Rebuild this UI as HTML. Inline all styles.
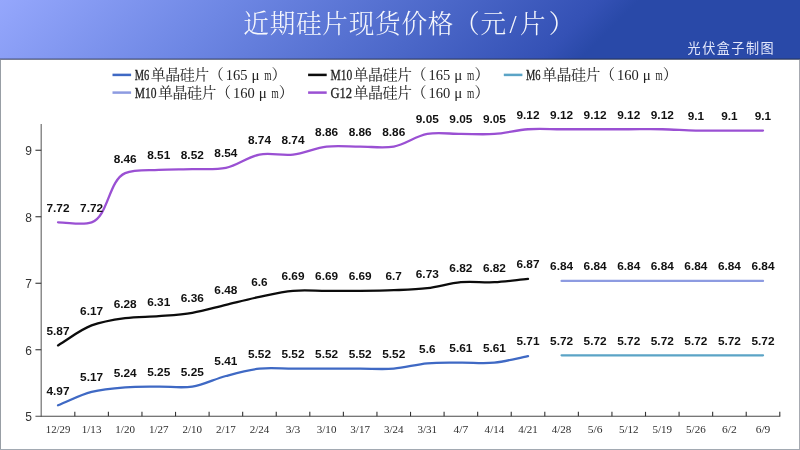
<!DOCTYPE html>
<html lang="zh-CN"><head><meta charset="utf-8"><title>近期硅片现货价格（元/片）</title>
<style>html,body{margin:0;padding:0;background:#fff;}body{width:800px;height:450px;overflow:hidden;}svg{display:block;}.ser{font-family:"Liberation Serif","Noto Serif CJK SC",serif;}.cjk{font-family:"Liberation Serif","Noto Serif CJK SC",serif;}.san{font-family:"Liberation Sans","Noto Sans CJK SC",sans-serif;}.dl{font-family:"Liberation Sans",sans-serif;font-weight:bold;font-size:11.5px;fill:#111;text-anchor:middle;}.xl{font-family:"Liberation Serif","Noto Serif CJK SC",serif;font-size:10.6px;fill:#2e2e2e;text-anchor:middle;}.yl{font-family:"Liberation Sans",sans-serif;font-size:12px;fill:#333;text-anchor:end;}.lg{font-size:15px;fill:#222;}</style></head><body>
<svg width="800" height="450" viewBox="0 0 800 450">
<defs><linearGradient id="hg" gradientUnits="userSpaceOnUse" x1="0" y1="0" x2="429" y2="429"><stop offset="0" stop-color="#95a7fc"/><stop offset="0.27" stop-color="#6e87e4"/><stop offset="0.52" stop-color="#4c68c9"/><stop offset="0.70" stop-color="#3451b5"/><stop offset="0.745" stop-color="#2949a8"/><stop offset="1" stop-color="#2949a8"/></linearGradient></defs>
<rect x="0" y="0" width="800" height="450" fill="#ffffff"/>
<rect x="0" y="0" width="800" height="59.3" fill="url(#hg)"/>
<rect x="0" y="58.5" width="800" height="1.4" fill="#23283a" fill-opacity="0.6"/>
<rect x="0" y="59.9" width="0.9" height="390.1" fill="#8d939b"/>
<rect x="799.1" y="59.9" width="0.9" height="390.1" fill="#9da1a9"/>
<rect x="0" y="449" width="800" height="1" fill="#a2a9b2"/>
<text class="cjk" text-anchor="middle" x="256.07 282.43 308.78 335.13 361.48 387.83 414.18 440.53 466.88 493.23 512.99 532.75 561.50" y="32.6" font-size="25.6" font-weight="300" fill="#ffffff" fill-opacity="0.95">近期硅片现货价格（元/片）</text>
<text class="san" text-anchor="middle" x="694.06 708.68 723.30 737.92 752.54 767.16" y="53.3" font-size="13.1" fill="#e4e8fb">光伏盒子制图</text>
<line x1="112.50" y1="74.90" x2="131.10" y2="74.90" stroke="#3f69c4" stroke-width="2.5"/>
<text class="ser lg" stroke="#222" stroke-width="0.3" x="134.80" y="80.40" textLength="14.50" lengthAdjust="spacingAndGlyphs">M6</text>
<text class="cjk lg" font-size="12.9" text-anchor="middle" x="158.15 172.65 187.15 201.65 216.15" y="79.90">单晶硅片（</text>
<text class="ser lg" x="225.70" y="80.40" textLength="21.75" lengthAdjust="spacingAndGlyphs">165</text>
<text class="ser lg" text-anchor="middle" x="255.50" y="80.40">μ</text>
<text class="ser lg" x="264.25" y="80.40" textLength="7.25" lengthAdjust="spacingAndGlyphs">m</text>
<text class="cjk lg" font-size="12.9" text-anchor="middle" x="279.05" y="79.90">）</text>
<line x1="308.10" y1="74.90" x2="326.70" y2="74.90" stroke="#0c0c0c" stroke-width="2.5"/>
<text class="ser lg" stroke="#222" stroke-width="0.3" x="330.40" y="80.40" textLength="21.75" lengthAdjust="spacingAndGlyphs">M10</text>
<text class="cjk lg" font-size="12.9" text-anchor="middle" x="361.00 375.50 390.00 404.50 419.00" y="79.90">单晶硅片（</text>
<text class="ser lg" x="428.55" y="80.40" textLength="21.75" lengthAdjust="spacingAndGlyphs">165</text>
<text class="ser lg" text-anchor="middle" x="458.35" y="80.40">μ</text>
<text class="ser lg" x="467.10" y="80.40" textLength="7.25" lengthAdjust="spacingAndGlyphs">m</text>
<text class="cjk lg" font-size="12.9" text-anchor="middle" x="481.90" y="79.90">）</text>
<line x1="503.80" y1="74.90" x2="522.40" y2="74.90" stroke="#5ba4c6" stroke-width="2.5"/>
<text class="ser lg" stroke="#222" stroke-width="0.3" x="526.10" y="80.40" textLength="14.50" lengthAdjust="spacingAndGlyphs">M6</text>
<text class="cjk lg" font-size="12.9" text-anchor="middle" x="549.45 563.95 578.45 592.95 607.45" y="79.90">单晶硅片（</text>
<text class="ser lg" x="617.00" y="80.40" textLength="21.75" lengthAdjust="spacingAndGlyphs">160</text>
<text class="ser lg" text-anchor="middle" x="646.80" y="80.40">μ</text>
<text class="ser lg" x="655.55" y="80.40" textLength="7.25" lengthAdjust="spacingAndGlyphs">m</text>
<text class="cjk lg" font-size="12.9" text-anchor="middle" x="670.35" y="79.90">）</text>
<line x1="112.50" y1="92.60" x2="131.10" y2="92.60" stroke="#8d9be1" stroke-width="2.5"/>
<text class="ser lg" stroke="#222" stroke-width="0.3" x="134.80" y="98.10" textLength="21.75" lengthAdjust="spacingAndGlyphs">M10</text>
<text class="cjk lg" font-size="12.9" text-anchor="middle" x="165.40 179.90 194.40 208.90 223.40" y="97.60">单晶硅片（</text>
<text class="ser lg" x="232.95" y="98.10" textLength="21.75" lengthAdjust="spacingAndGlyphs">160</text>
<text class="ser lg" text-anchor="middle" x="262.75" y="98.10">μ</text>
<text class="ser lg" x="271.50" y="98.10" textLength="7.25" lengthAdjust="spacingAndGlyphs">m</text>
<text class="cjk lg" font-size="12.9" text-anchor="middle" x="286.30" y="97.60">）</text>
<line x1="308.10" y1="92.60" x2="326.70" y2="92.60" stroke="#9a50d3" stroke-width="2.5"/>
<text class="ser lg" stroke="#222" stroke-width="0.3" x="330.40" y="98.10" textLength="21.75" lengthAdjust="spacingAndGlyphs">G12</text>
<text class="cjk lg" font-size="12.9" text-anchor="middle" x="361.00 375.50 390.00 404.50 419.00" y="97.60">单晶硅片（</text>
<text class="ser lg" x="428.55" y="98.10" textLength="21.75" lengthAdjust="spacingAndGlyphs">160</text>
<text class="ser lg" text-anchor="middle" x="458.35" y="98.10">μ</text>
<text class="ser lg" x="467.10" y="98.10" textLength="7.25" lengthAdjust="spacingAndGlyphs">m</text>
<text class="cjk lg" font-size="12.9" text-anchor="middle" x="481.90" y="97.60">）</text>
<line x1="41.25" y1="124" x2="41.25" y2="416.85" stroke="#8c8c8c" stroke-width="1.5"/>
<line x1="35.45" y1="416.25" x2="780.29" y2="416.25" stroke="#4a4a4a" stroke-width="1.2"/>
<text class="yl" x="31.9" y="421.35">5</text>
<line x1="35.45" y1="349.75" x2="41.25" y2="349.75" stroke="#333" stroke-width="1.1"/>
<text class="yl" x="31.9" y="354.85">6</text>
<line x1="35.45" y1="283.25" x2="41.25" y2="283.25" stroke="#333" stroke-width="1.1"/>
<text class="yl" x="31.9" y="288.35">7</text>
<line x1="35.45" y1="216.75" x2="41.25" y2="216.75" stroke="#333" stroke-width="1.1"/>
<text class="yl" x="31.9" y="221.85">8</text>
<line x1="35.45" y1="150.25" x2="41.25" y2="150.25" stroke="#333" stroke-width="1.1"/>
<text class="yl" x="31.9" y="155.35">9</text>
<line x1="74.82" y1="411.85" x2="74.82" y2="416.25" stroke="#333" stroke-width="1.1"/>
<line x1="108.39" y1="411.85" x2="108.39" y2="416.25" stroke="#333" stroke-width="1.1"/>
<line x1="141.96" y1="411.85" x2="141.96" y2="416.25" stroke="#333" stroke-width="1.1"/>
<line x1="175.53" y1="411.85" x2="175.53" y2="416.25" stroke="#333" stroke-width="1.1"/>
<line x1="209.10" y1="411.85" x2="209.10" y2="416.25" stroke="#333" stroke-width="1.1"/>
<line x1="242.67" y1="411.85" x2="242.67" y2="416.25" stroke="#333" stroke-width="1.1"/>
<line x1="276.24" y1="411.85" x2="276.24" y2="416.25" stroke="#333" stroke-width="1.1"/>
<line x1="309.81" y1="411.85" x2="309.81" y2="416.25" stroke="#333" stroke-width="1.1"/>
<line x1="343.38" y1="411.85" x2="343.38" y2="416.25" stroke="#333" stroke-width="1.1"/>
<line x1="376.95" y1="411.85" x2="376.95" y2="416.25" stroke="#333" stroke-width="1.1"/>
<line x1="410.52" y1="411.85" x2="410.52" y2="416.25" stroke="#333" stroke-width="1.1"/>
<line x1="444.09" y1="411.85" x2="444.09" y2="416.25" stroke="#333" stroke-width="1.1"/>
<line x1="477.66" y1="411.85" x2="477.66" y2="416.25" stroke="#333" stroke-width="1.1"/>
<line x1="511.23" y1="411.85" x2="511.23" y2="416.25" stroke="#333" stroke-width="1.1"/>
<line x1="544.80" y1="411.85" x2="544.80" y2="416.25" stroke="#333" stroke-width="1.1"/>
<line x1="578.37" y1="411.85" x2="578.37" y2="416.25" stroke="#333" stroke-width="1.1"/>
<line x1="611.94" y1="411.85" x2="611.94" y2="416.25" stroke="#333" stroke-width="1.1"/>
<line x1="645.51" y1="411.85" x2="645.51" y2="416.25" stroke="#333" stroke-width="1.1"/>
<line x1="679.08" y1="411.85" x2="679.08" y2="416.25" stroke="#333" stroke-width="1.1"/>
<line x1="712.65" y1="411.85" x2="712.65" y2="416.25" stroke="#333" stroke-width="1.1"/>
<line x1="746.22" y1="411.85" x2="746.22" y2="416.25" stroke="#333" stroke-width="1.1"/>
<line x1="779.79" y1="411.85" x2="779.79" y2="416.25" stroke="#333" stroke-width="1.1"/>
<text class="xl" x="58.03" y="432.9" textLength="24.50" lengthAdjust="spacingAndGlyphs">12/29</text>
<text class="xl" x="91.61" y="432.9" textLength="19.60" lengthAdjust="spacingAndGlyphs">1/13</text>
<text class="xl" x="125.17" y="432.9" textLength="19.60" lengthAdjust="spacingAndGlyphs">1/20</text>
<text class="xl" x="158.75" y="432.9" textLength="19.60" lengthAdjust="spacingAndGlyphs">1/27</text>
<text class="xl" x="192.31" y="432.9" textLength="19.60" lengthAdjust="spacingAndGlyphs">2/10</text>
<text class="xl" x="225.88" y="432.9" textLength="19.60" lengthAdjust="spacingAndGlyphs">2/17</text>
<text class="xl" x="259.46" y="432.9" textLength="19.60" lengthAdjust="spacingAndGlyphs">2/24</text>
<text class="xl" x="293.02" y="432.9" textLength="14.70" lengthAdjust="spacingAndGlyphs">3/3</text>
<text class="xl" x="326.60" y="432.9" textLength="19.60" lengthAdjust="spacingAndGlyphs">3/10</text>
<text class="xl" x="360.17" y="432.9" textLength="19.60" lengthAdjust="spacingAndGlyphs">3/17</text>
<text class="xl" x="393.74" y="432.9" textLength="19.60" lengthAdjust="spacingAndGlyphs">3/24</text>
<text class="xl" x="427.31" y="432.9" textLength="19.60" lengthAdjust="spacingAndGlyphs">3/31</text>
<text class="xl" x="460.88" y="432.9" textLength="14.70" lengthAdjust="spacingAndGlyphs">4/7</text>
<text class="xl" x="494.44" y="432.9" textLength="19.60" lengthAdjust="spacingAndGlyphs">4/14</text>
<text class="xl" x="528.01" y="432.9" textLength="19.60" lengthAdjust="spacingAndGlyphs">4/21</text>
<text class="xl" x="561.59" y="432.9" textLength="19.60" lengthAdjust="spacingAndGlyphs">4/28</text>
<text class="xl" x="595.15" y="432.9" textLength="14.70" lengthAdjust="spacingAndGlyphs">5/6</text>
<text class="xl" x="628.73" y="432.9" textLength="19.60" lengthAdjust="spacingAndGlyphs">5/12</text>
<text class="xl" x="662.29" y="432.9" textLength="19.60" lengthAdjust="spacingAndGlyphs">5/19</text>
<text class="xl" x="695.87" y="432.9" textLength="19.60" lengthAdjust="spacingAndGlyphs">5/26</text>
<text class="xl" x="729.44" y="432.9" textLength="14.70" lengthAdjust="spacingAndGlyphs">6/2</text>
<text class="xl" x="763.00" y="432.9" textLength="14.70" lengthAdjust="spacingAndGlyphs">6/9</text>
<path d="M58.03,405.25 C69.22,400.81 80.04,394.94 91.61,391.94 C102.46,389.13 113.93,388.17 125.17,387.29 C136.31,386.41 147.55,386.74 158.75,386.62 C169.93,386.51 181.38,388.28 192.31,386.62 C203.79,384.89 214.55,379.00 225.88,375.99 C236.94,373.04 248.13,369.88 259.46,368.67 C270.52,367.49 281.83,368.67 293.02,368.67 C304.21,368.67 315.41,368.67 326.60,368.67 C337.79,368.67 348.98,368.67 360.17,368.67 C371.36,368.67 382.61,369.54 393.74,368.67 C405.00,367.79 416.05,364.34 427.31,363.35 C438.43,362.37 449.68,362.80 460.88,362.69 C472.06,362.57 483.36,363.76 494.44,362.69 C505.74,361.59 516.83,358.25 528.01,356.04" fill="none" stroke="#3f69c4" stroke-width="2.3" stroke-linecap="round" stroke-linejoin="round"/>
<path d="M561.59,355.37 L595.15,355.37 L628.73,355.37 L662.29,355.37 L695.87,355.37 L729.44,355.37 L763.00,355.37" fill="none" stroke="#5ba4c6" stroke-width="2.3" stroke-linecap="round" stroke-linejoin="round"/>
<path d="M58.03,345.39 C69.22,338.75 79.60,330.03 91.61,325.44 C102.17,321.41 113.86,319.68 125.17,318.13 C136.25,316.61 147.57,317.02 158.75,316.14 C169.95,315.25 181.25,314.66 192.31,312.81 C203.63,310.92 214.69,307.49 225.88,304.83 C237.08,302.17 248.20,299.19 259.46,296.85 C270.58,294.54 281.75,291.85 293.02,290.86 C304.13,289.89 315.41,290.86 326.60,290.86 C337.79,290.86 348.98,290.98 360.17,290.86 C371.36,290.75 382.55,290.64 393.74,290.20 C404.93,289.76 416.19,289.52 427.31,288.20 C438.57,286.87 449.60,283.21 460.88,282.22 C471.98,281.25 483.28,282.77 494.44,282.22 C505.66,281.67 516.83,280.00 528.01,278.89" fill="none" stroke="#0c0c0c" stroke-width="2.3" stroke-linecap="round" stroke-linejoin="round"/>
<path d="M561.59,280.89 L595.15,280.89 L628.73,280.89 L662.29,280.89 L695.87,280.89 L729.44,280.89 L763.00,280.89" fill="none" stroke="#8d9be1" stroke-width="2.3" stroke-linecap="round" stroke-linejoin="round"/>
<path d="M58.03,222.37 C69.22,222.37 82.18,225.70 91.61,222.37 C108.34,216.46 108.51,180.34 125.17,173.16 C134.61,169.09 147.53,170.50 158.75,169.84 C169.91,169.17 181.13,169.50 192.31,169.17 C203.51,168.84 215.07,170.06 225.88,167.84 C237.51,165.46 247.83,156.68 259.46,154.54 C270.27,152.55 281.98,155.82 293.02,154.54 C304.37,153.23 315.25,147.87 326.60,146.56 C337.64,145.28 348.98,146.56 360.17,146.56 C371.36,146.56 382.89,148.47 393.74,146.56 C405.32,144.52 415.72,135.96 427.31,133.92 C438.15,132.02 449.69,133.92 460.88,133.92 C472.06,133.92 483.31,134.69 494.44,133.92 C505.69,133.15 516.77,130.04 528.01,129.27 C539.15,128.51 550.39,129.27 561.59,129.27 C572.77,129.27 583.97,129.27 595.15,129.27 C606.35,129.27 617.53,129.27 628.73,129.27 C639.91,129.27 651.11,129.05 662.29,129.27 C673.49,129.49 684.67,130.38 695.87,130.60 C707.05,130.82 718.25,130.60 729.44,130.60 C740.62,130.60 751.82,130.60 763.00,130.60" fill="none" stroke="#9a50d3" stroke-width="2.3" stroke-linecap="round" stroke-linejoin="round"/>
<text class="dl" x="58.03" y="394.64" textLength="23.04" lengthAdjust="spacingAndGlyphs">4.97</text>
<text class="dl" x="91.61" y="381.34" textLength="23.04" lengthAdjust="spacingAndGlyphs">5.17</text>
<text class="dl" x="125.17" y="376.69" textLength="23.04" lengthAdjust="spacingAndGlyphs">5.24</text>
<text class="dl" x="158.75" y="376.02" textLength="23.04" lengthAdjust="spacingAndGlyphs">5.25</text>
<text class="dl" x="192.31" y="376.02" textLength="23.04" lengthAdjust="spacingAndGlyphs">5.25</text>
<text class="dl" x="225.88" y="365.38" textLength="23.04" lengthAdjust="spacingAndGlyphs">5.41</text>
<text class="dl" x="259.46" y="358.07" textLength="23.04" lengthAdjust="spacingAndGlyphs">5.52</text>
<text class="dl" x="293.02" y="358.07" textLength="23.04" lengthAdjust="spacingAndGlyphs">5.52</text>
<text class="dl" x="326.60" y="358.07" textLength="23.04" lengthAdjust="spacingAndGlyphs">5.52</text>
<text class="dl" x="360.17" y="358.07" textLength="23.04" lengthAdjust="spacingAndGlyphs">5.52</text>
<text class="dl" x="393.74" y="358.07" textLength="23.04" lengthAdjust="spacingAndGlyphs">5.52</text>
<text class="dl" x="427.31" y="352.75" textLength="16.36" lengthAdjust="spacingAndGlyphs">5.6</text>
<text class="dl" x="460.88" y="352.08" textLength="23.04" lengthAdjust="spacingAndGlyphs">5.61</text>
<text class="dl" x="494.44" y="352.08" textLength="23.04" lengthAdjust="spacingAndGlyphs">5.61</text>
<text class="dl" x="528.01" y="345.44" textLength="23.04" lengthAdjust="spacingAndGlyphs">5.71</text>
<text class="dl" x="561.59" y="344.77" textLength="23.04" lengthAdjust="spacingAndGlyphs">5.72</text>
<text class="dl" x="595.15" y="344.77" textLength="23.04" lengthAdjust="spacingAndGlyphs">5.72</text>
<text class="dl" x="628.73" y="344.77" textLength="23.04" lengthAdjust="spacingAndGlyphs">5.72</text>
<text class="dl" x="662.29" y="344.77" textLength="23.04" lengthAdjust="spacingAndGlyphs">5.72</text>
<text class="dl" x="695.87" y="344.77" textLength="23.04" lengthAdjust="spacingAndGlyphs">5.72</text>
<text class="dl" x="729.44" y="344.77" textLength="23.04" lengthAdjust="spacingAndGlyphs">5.72</text>
<text class="dl" x="763.00" y="344.77" textLength="23.04" lengthAdjust="spacingAndGlyphs">5.72</text>
<text class="dl" x="58.03" y="334.79" textLength="23.04" lengthAdjust="spacingAndGlyphs">5.87</text>
<text class="dl" x="91.61" y="314.84" textLength="23.04" lengthAdjust="spacingAndGlyphs">6.17</text>
<text class="dl" x="125.17" y="307.53" textLength="23.04" lengthAdjust="spacingAndGlyphs">6.28</text>
<text class="dl" x="158.75" y="305.54" textLength="23.04" lengthAdjust="spacingAndGlyphs">6.31</text>
<text class="dl" x="192.31" y="302.21" textLength="23.04" lengthAdjust="spacingAndGlyphs">6.36</text>
<text class="dl" x="225.88" y="294.23" textLength="23.04" lengthAdjust="spacingAndGlyphs">6.48</text>
<text class="dl" x="259.46" y="286.25" textLength="16.36" lengthAdjust="spacingAndGlyphs">6.6</text>
<text class="dl" x="293.02" y="280.26" textLength="23.04" lengthAdjust="spacingAndGlyphs">6.69</text>
<text class="dl" x="326.60" y="280.26" textLength="23.04" lengthAdjust="spacingAndGlyphs">6.69</text>
<text class="dl" x="360.17" y="280.26" textLength="23.04" lengthAdjust="spacingAndGlyphs">6.69</text>
<text class="dl" x="393.74" y="279.60" textLength="16.36" lengthAdjust="spacingAndGlyphs">6.7</text>
<text class="dl" x="427.31" y="277.60" textLength="23.04" lengthAdjust="spacingAndGlyphs">6.73</text>
<text class="dl" x="460.88" y="271.62" textLength="23.04" lengthAdjust="spacingAndGlyphs">6.82</text>
<text class="dl" x="494.44" y="271.62" textLength="23.04" lengthAdjust="spacingAndGlyphs">6.82</text>
<text class="dl" x="528.01" y="268.29" textLength="23.04" lengthAdjust="spacingAndGlyphs">6.87</text>
<text class="dl" x="561.59" y="270.29" textLength="23.04" lengthAdjust="spacingAndGlyphs">6.84</text>
<text class="dl" x="595.15" y="270.29" textLength="23.04" lengthAdjust="spacingAndGlyphs">6.84</text>
<text class="dl" x="628.73" y="270.29" textLength="23.04" lengthAdjust="spacingAndGlyphs">6.84</text>
<text class="dl" x="662.29" y="270.29" textLength="23.04" lengthAdjust="spacingAndGlyphs">6.84</text>
<text class="dl" x="695.87" y="270.29" textLength="23.04" lengthAdjust="spacingAndGlyphs">6.84</text>
<text class="dl" x="729.44" y="270.29" textLength="23.04" lengthAdjust="spacingAndGlyphs">6.84</text>
<text class="dl" x="763.00" y="270.29" textLength="23.04" lengthAdjust="spacingAndGlyphs">6.84</text>
<text class="dl" x="58.03" y="211.77" textLength="23.04" lengthAdjust="spacingAndGlyphs">7.72</text>
<text class="dl" x="91.61" y="211.77" textLength="23.04" lengthAdjust="spacingAndGlyphs">7.72</text>
<text class="dl" x="125.17" y="162.56" textLength="23.04" lengthAdjust="spacingAndGlyphs">8.46</text>
<text class="dl" x="158.75" y="159.24" textLength="23.04" lengthAdjust="spacingAndGlyphs">8.51</text>
<text class="dl" x="192.31" y="158.57" textLength="23.04" lengthAdjust="spacingAndGlyphs">8.52</text>
<text class="dl" x="225.88" y="157.24" textLength="23.04" lengthAdjust="spacingAndGlyphs">8.54</text>
<text class="dl" x="259.46" y="143.94" textLength="23.04" lengthAdjust="spacingAndGlyphs">8.74</text>
<text class="dl" x="293.02" y="143.94" textLength="23.04" lengthAdjust="spacingAndGlyphs">8.74</text>
<text class="dl" x="326.60" y="135.96" textLength="23.04" lengthAdjust="spacingAndGlyphs">8.86</text>
<text class="dl" x="360.17" y="135.96" textLength="23.04" lengthAdjust="spacingAndGlyphs">8.86</text>
<text class="dl" x="393.74" y="135.96" textLength="23.04" lengthAdjust="spacingAndGlyphs">8.86</text>
<text class="dl" x="427.31" y="123.32" textLength="23.04" lengthAdjust="spacingAndGlyphs">9.05</text>
<text class="dl" x="460.88" y="123.32" textLength="23.04" lengthAdjust="spacingAndGlyphs">9.05</text>
<text class="dl" x="494.44" y="123.32" textLength="23.04" lengthAdjust="spacingAndGlyphs">9.05</text>
<text class="dl" x="528.01" y="118.67" textLength="23.04" lengthAdjust="spacingAndGlyphs">9.12</text>
<text class="dl" x="561.59" y="118.67" textLength="23.04" lengthAdjust="spacingAndGlyphs">9.12</text>
<text class="dl" x="595.15" y="118.67" textLength="23.04" lengthAdjust="spacingAndGlyphs">9.12</text>
<text class="dl" x="628.73" y="118.67" textLength="23.04" lengthAdjust="spacingAndGlyphs">9.12</text>
<text class="dl" x="662.29" y="118.67" textLength="23.04" lengthAdjust="spacingAndGlyphs">9.12</text>
<text class="dl" x="695.87" y="120.00" textLength="16.36" lengthAdjust="spacingAndGlyphs">9.1</text>
<text class="dl" x="729.44" y="120.00" textLength="16.36" lengthAdjust="spacingAndGlyphs">9.1</text>
<text class="dl" x="763.00" y="120.00" textLength="16.36" lengthAdjust="spacingAndGlyphs">9.1</text>
</svg></body></html>
